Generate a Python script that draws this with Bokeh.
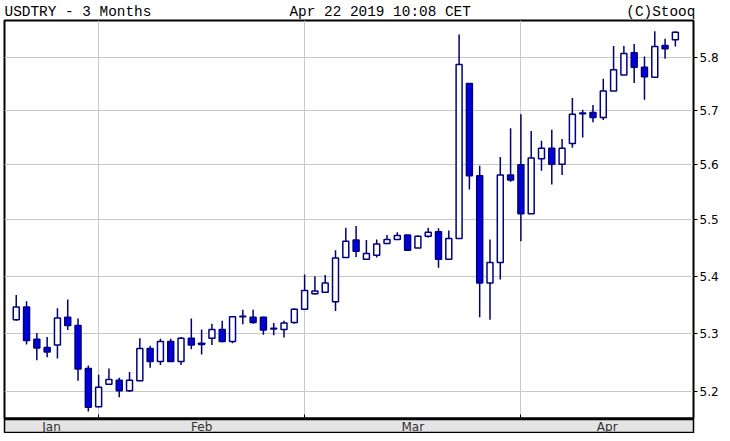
import pandas as pd
from bokeh.plotting import figure
from bokeh.layouts import column
from bokeh.models import ColumnDataSource, FixedTicker, PrintfTickFormatter
from bokeh.core.properties import value
from bokeh.embed import file_html
from bokeh.resources import INLINE

# ---- data (USDTRY daily candles, Jan 22 - Apr 22 2019) ----
dates = pd.bdate_range("2019-01-22", "2019-04-22")
opens = [5.324, 5.346, 5.290, 5.276, 5.280, 5.328, 5.314, 5.240, 5.175, 5.213,
         5.220, 5.202, 5.219, 5.274, 5.252, 5.286, 5.252, 5.292, 5.281, 5.292,
         5.307, 5.286, 5.329, 5.328, 5.328, 5.308, 5.307, 5.319, 5.342, 5.369,
         5.372, 5.355, 5.433, 5.464, 5.430, 5.437, 5.458, 5.465, 5.473, 5.450,
         5.471, 5.479, 5.430, 5.467, 5.750, 5.580, 5.388, 5.424, 5.581, 5.600,
         5.511, 5.611, 5.630, 5.601, 5.639, 5.694, 5.696, 5.687, 5.736, 5.766,
         5.808, 5.781, 5.762, 5.822, 5.833]
highs = [5.367, 5.356, 5.301, 5.294, 5.344, 5.359, 5.326, 5.245, 5.229, 5.240,
         5.224, 5.234, 5.292, 5.279, 5.291, 5.291, 5.294, 5.326, 5.307, 5.317,
         5.322, 5.330, 5.341, 5.341, 5.329, 5.318, 5.322, 5.344, 5.403, 5.400,
         5.402, 5.446, 5.486, 5.489, 5.464, 5.465, 5.473, 5.478, 5.473, 5.472,
         5.486, 5.485, 5.481, 5.843, 5.750, 5.598, 5.465, 5.614, 5.667, 5.693,
         5.662, 5.644, 5.664, 5.647, 5.723, 5.701, 5.710, 5.759, 5.821, 5.821,
         5.825, 5.801, 5.849, 5.835, 5.849]
lows = [5.322, 5.281, 5.254, 5.259, 5.257, 5.306, 5.219, 5.167, 5.174, 5.212,
        5.191, 5.200, 5.218, 5.241, 5.246, 5.251, 5.246, 5.273, 5.264, 5.280,
        5.285, 5.283, 5.316, 5.317, 5.298, 5.297, 5.293, 5.317, 5.342, 5.368,
        5.371, 5.339, 5.432, 5.434, 5.430, 5.433, 5.458, 5.465, 5.445, 5.450,
        5.468, 5.415, 5.430, 5.466, 5.555, 5.328, 5.324, 5.394, 5.569, 5.462,
        5.511, 5.589, 5.564, 5.581, 5.631, 5.650, 5.678, 5.682, 5.736, 5.766,
        5.751, 5.720, 5.761, 5.797, 5.820]
closes = [5.346, 5.288, 5.275, 5.268, 5.327, 5.314, 5.239, 5.174, 5.208, 5.221,
          5.202, 5.220, 5.274, 5.252, 5.286, 5.252, 5.292, 5.280, 5.283, 5.307,
          5.286, 5.329, 5.330, 5.319, 5.306, 5.309, 5.318, 5.342, 5.375, 5.374,
          5.388, 5.432, 5.462, 5.444, 5.440, 5.457, 5.465, 5.472, 5.446, 5.471,
          5.478, 5.430, 5.467, 5.786, 5.580, 5.388, 5.424, 5.581, 5.572, 5.511,
          5.612, 5.630, 5.601, 5.630, 5.693, 5.695, 5.687, 5.736, 5.776, 5.807,
          5.781, 5.763, 5.820, 5.816, 5.847]
y_ticks = [5.2, 5.3, 5.4, 5.5, 5.6, 5.7, 5.8]
month_names = ["Jan", "Feb", "Mar", "Apr"]
title_left = "USDTRY - 3 Months"
title_mid = "Apr 22 2019 10:08 CET"
title_right = "(C)Stooq"

idx = list(range(len(dates)))
up = [c >= o for o, c in zip(opens, closes)]
src = ColumnDataSource(dict(
    x=idx, high=highs, low=lows,
    top=[max(o, c) for o, c in zip(opens, closes)],
    bottom=[min(o, c) for o, c in zip(opens, closes)],
    fill=["#ffffff" if u else "#0000d8" for u in up],
))

W = 722
X0, X1 = -1.14, 65.76

# month boundaries (first trading day of each month)
months = [d.month for d in dates]
bounds = [i for i in range(1, len(months)) if months[i] != months[i - 1]]
edges = [X0] + bounds + [X1]
label_pos = [(edges[k] + edges[k + 1]) / 2 for k in range(len(edges) - 1)]

p = figure(width=W, height=419, y_axis_type="log", y_axis_location="right",
           x_range=(X0, X1), y_range=(5.1551, 5.8696),
           toolbar_location=None, output_backend="svg",
           min_border_left=4, min_border_right=29, min_border_top=20, min_border_bottom=1,
           background_fill_color="white", border_fill_color="white")

# header line (monospace, padded with no-break spaces)
NB = "\u00a0"
p.title.text = title_left + NB * 16 + title_mid + NB * 18 + title_right
p.title.text_font = "Liberation Mono"
p.title.text_font_size = "14.4px"
p.title.text_font_style = "normal"
p.title.text_color = "black"
p.title.standoff = 2
p.title.offset = 0
p.title.align = "left"

# grids
p.xgrid.ticker = FixedTicker(ticks=bounds)
p.ygrid.ticker = FixedTicker(ticks=y_ticks)
p.xgrid.grid_line_color = "#c8c8c8"
p.ygrid.grid_line_color = "#c8c8c8"

# right axis
p.yaxis.ticker = FixedTicker(ticks=y_ticks)
p.yaxis.formatter = PrintfTickFormatter(format="%.1f")
p.yaxis.major_tick_out = 4
p.yaxis.major_tick_in = 0
p.yaxis.minor_tick_line_color = None
p.yaxis.major_label_standoff = 2
p.yaxis.major_label_text_font = "DejaVu Sans"
p.yaxis.major_label_text_font_size = "12px"
p.yaxis.major_label_text_color = "black"
p.yaxis.axis_line_color = "black"

# bottom axis: only inward ticks at month boundaries, no labels
p.xaxis.ticker = FixedTicker(ticks=bounds)
p.xaxis.major_tick_in = 4
p.xaxis.major_tick_out = 0
p.xaxis.major_tick_line_color = "black"
p.xaxis.minor_tick_line_color = None
p.xaxis.major_label_text_color = None
p.xaxis.major_label_text_font_size = "8px"
p.xaxis.major_label_standoff = 0
p.xaxis.axis_line_color = "black"
p.xaxis.axis_line_width = 2

p.outline_line_color = "black"
p.outline_line_width = 2

# candles
p.segment(x0="x", x1="x", y0="low", y1="high", source=src, line_color="#000070", line_width=1.5)
p.vbar(x="x", top="top", bottom="bottom", width=0.58, source=src,
       fill_color="fill", line_color="#000080", line_width=1.5)

# month band below the chart
band = figure(width=W, height=14, x_range=p.x_range, y_range=(-1, 1),
              x_axis_location=None, y_axis_location=None,
              toolbar_location=None, output_backend="svg",
              min_border_left=4, min_border_right=29, min_border_top=0, min_border_bottom=0,
              background_fill_color="#e4e4e4", border_fill_color="white")
band.grid.visible = False
band.outline_line_color = "black"
band.outline_line_width = 1.5
msrc = ColumnDataSource(dict(x=label_pos, y=[0] * len(label_pos), t=month_names))
band.text(x="x", y="y", text="t", source=msrc, text_align="center", text_baseline="middle",
          text_font=value("DejaVu Sans"), text_font_size="12px", text_color="#303030")

layout = column(p, band, spacing=0)
open("out.html", "w").write(file_html(layout, INLINE))
